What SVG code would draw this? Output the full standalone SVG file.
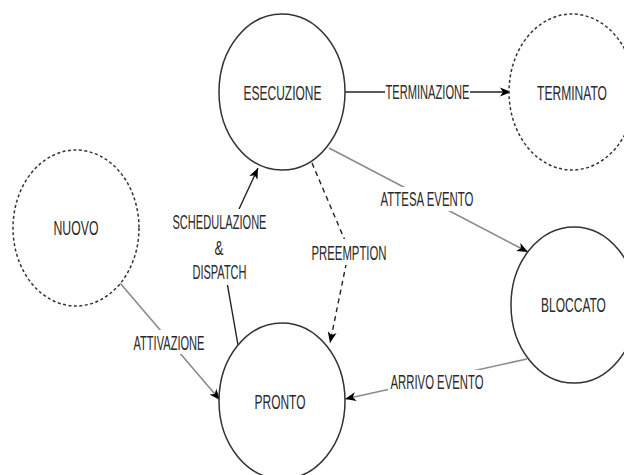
<svg xmlns="http://www.w3.org/2000/svg" width="624" height="475" viewBox="0 0 624 475">
<style>
.st{fill:#fff;stroke:#333;stroke-width:1.5}
.dash{stroke-dasharray:3 2.5}
.t{font-family:"Liberation Sans",Arial,sans-serif;font-size:20px;fill:#2a2a2a;text-anchor:middle}
.c{fill:none;stroke:#222;stroke-width:1.4}
.g{stroke:#8a8a8a;stroke-width:1.6}
.d{stroke-dasharray:5 4}
.lb{fill:#fff}
</style>
<defs>
<marker id="arr" viewBox="0 0 12 10" refX="11" refY="5" markerWidth="12" markerHeight="10" markerUnits="userSpaceOnUse" orient="auto">
<path d="M0,0.5 L11,5 L0,9.5 L3,5 Z" fill="#000"/>
</marker>
</defs>
<rect width="624" height="475" fill="#fff"/>
<g id="connectors">
<path class="c" d="M345,92 L511,92" marker-end="url(#arr)"/>
<path class="c g" d="M329,148 L528,252" marker-end="url(#arr)"/>
<path class="c d" d="M312,163 L349,250 L330,343" marker-end="url(#arr)"/>
<path class="c" d="M238,345 L221,248 L258,168" marker-end="url(#arr)"/>
<path class="c g" d="M120,283 L220,400" marker-end="url(#arr)"/>
<path class="c g" d="M527,359 L345,399" marker-end="url(#arr)"/>
<g id="labels">
<rect class="lb" x="385" y="82" width="85" height="20"/>
<text class="t" x="427.5" y="99" textLength="84" lengthAdjust="spacingAndGlyphs">TERMINAZIONE</text>
<rect class="lb" x="379" y="187" width="96" height="24"/>
<text class="t" x="427" y="206" textLength="93" lengthAdjust="spacingAndGlyphs">ATTESA EVENTO</text>
<rect class="lb" x="310" y="239" width="78" height="26"/>
<text class="t" x="349" y="260" textLength="75" lengthAdjust="spacingAndGlyphs">PREEMPTION</text>
<rect class="lb" x="170" y="209" width="99" height="76"/>
<text class="t" x="219.5" y="229" textLength="94" lengthAdjust="spacingAndGlyphs">SCHEDULAZIONE</text>
<text class="t" x="219" y="255" textLength="9" lengthAdjust="spacingAndGlyphs">&amp;</text>
<text class="t" x="219.5" y="279" textLength="54" lengthAdjust="spacingAndGlyphs">DISPATCH</text>
<rect class="lb" x="131" y="330" width="76" height="24"/>
<text class="t" x="169" y="350" textLength="71" lengthAdjust="spacingAndGlyphs">ATTIVAZIONE</text>
<rect class="lb" x="388" y="370" width="98" height="24"/>
<text class="t" x="437" y="389" textLength="93" lengthAdjust="spacingAndGlyphs">ARRIVO EVENTO</text>
</g>
</g>
<g id="esecuzione">
<ellipse class="st" cx="282" cy="92" rx="63" ry="78"/>
<text class="t" x="282.5" y="100" textLength="78" lengthAdjust="spacingAndGlyphs">ESECUZIONE</text>
</g>
<g id="terminato">
<ellipse class="st dash" cx="572" cy="92" rx="63" ry="78"/>
<text class="t" transform="translate(572 100) scale(0.603 1)" x="0" y="0">TERMINATO</text>
</g>
<g id="nuovo">
<ellipse class="st dash" cx="76" cy="228" rx="63" ry="78"/>
<text class="t" x="76" y="235" textLength="45" lengthAdjust="spacingAndGlyphs">NUOVO</text>
</g>
<g id="pronto">
<ellipse class="st" cx="282" cy="401" rx="63" ry="78"/>
<text class="t" x="280" y="409" textLength="51" lengthAdjust="spacingAndGlyphs">PRONTO</text>
</g>
<g id="bloccato">
<ellipse class="st" cx="574" cy="305" rx="63" ry="78"/>
<text class="t" transform="translate(573.5 312) scale(0.6 1)" x="0" y="0">BLOCCATO</text>
</g>
</svg>
